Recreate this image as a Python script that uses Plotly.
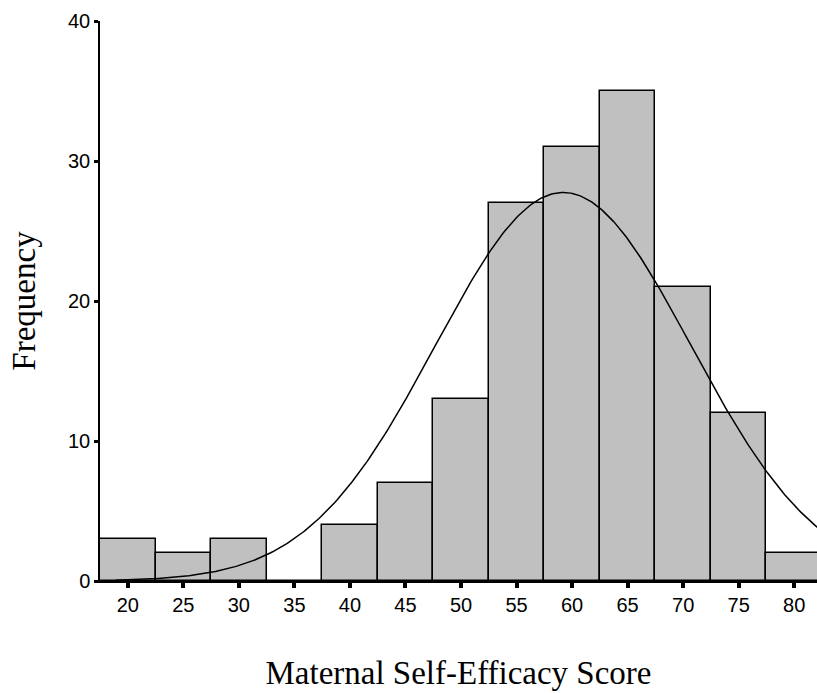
import numpy as np
import plotly.graph_objects as go

# Histogram of maternal self-efficacy scores (bin width 5)
bin_centers = [20, 25, 30, 35, 40, 45, 50, 55, 60, 65, 70, 75, 80]
frequencies = [3, 2, 3, 0, 4, 7, 13, 27, 31, 35, 21, 12, 2]
bin_width = 5

# Summary statistics for the fitted normal curve
score_mean = 59.2
score_sd = 11.5
n_cases = sum(frequencies)

x_ticks = [20, 25, 30, 35, 40, 45, 50, 55, 60, 65, 70, 75, 80]
y_ticks = [0, 10, 20, 30, 40]

curve_x = np.linspace(18.9, 83, 400)
curve_y = (n_cases * bin_width / (score_sd * np.sqrt(2 * np.pi))
           * np.exp(-0.5 * ((curve_x - score_mean) / score_sd) ** 2))

fig = go.Figure()
fig.add_trace(go.Bar(
    x=bin_centers, y=frequencies, width=bin_width,
    marker=dict(color="#C0C0C0", line=dict(color="black", width=1.5)),
    showlegend=False, hoverinfo="x+y",
))
fig.add_trace(go.Scatter(
    x=curve_x, y=curve_y, mode="lines",
    line=dict(color="black", width=1.5),
    showlegend=False, hoverinfo="skip",
))

tick_font = dict(family="Liberation Sans, Arial", size=20, color="black")
title_font = dict(family="Liberation Serif, Times New Roman", size=33, color="black")

fig.update_layout(
    width=817, height=693,
    margin=dict(l=100, r=0, t=21, b=112),
    plot_bgcolor="white", paper_bgcolor="white",
    bargap=0,
    xaxis=dict(
        range=[17.5, 82.05], tickvals=x_ticks, ticktext=[str(v) for v in x_ticks],
        ticks="outside", ticklen=5, tickwidth=4, tickcolor="black",
        showline=True, linecolor="black", linewidth=1.5,
        showgrid=False, zeroline=False, tickfont=tick_font,
        title=dict(text="Maternal Self-Efficacy Score", font=title_font, standoff=46),
    ),
    yaxis=dict(
        range=[0, 40], tickvals=y_ticks,
        ticks="outside", ticklen=4, tickwidth=3, tickcolor="black",
        showline=True, linecolor="black", linewidth=1.5,
        showgrid=False, zeroline=False, tickfont=tick_font,
        title=dict(text="Frequency", font=title_font, standoff=22),
    ),
)

fig.write_html("out.html")
